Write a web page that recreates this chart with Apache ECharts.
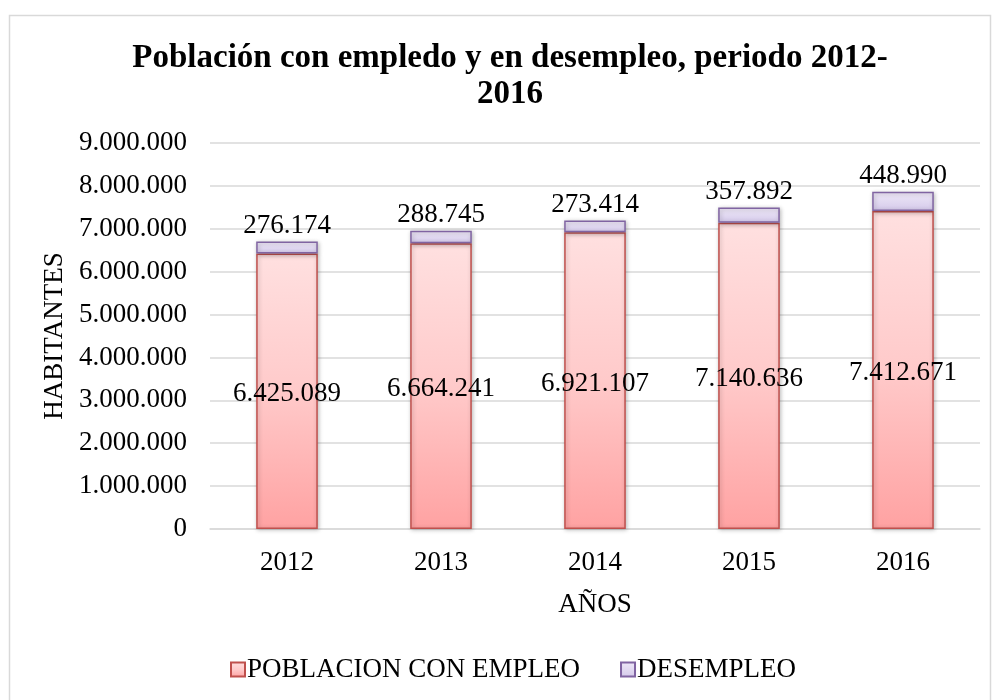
<!DOCTYPE html>
<html>
<head>
<meta charset="utf-8">
<script src="https://cdn.jsdelivr.net/npm/echarts@6/dist/echarts.min.js"></script>
<style>
html,body{margin:0;padding:0;background:#fff;}
#chart{width:999px;height:700px;}
</style>
</head>
<body>
<div id="chart"></div>
<script>
const years = ['2012', '2013', '2014', '2015', '2016'];
const employed = [6425089, 6664241, 6921107, 7140636, 7412671];
const unemployed = [276174, 288745, 273414, 357892, 448990];
const seriesNames = ['POBLACION CON EMPLEO', 'DESEMPLEO'];
const titleText = 'Población con empledo y en desempleo, periodo 2012-\n2016';

const FONT = '"Liberation Serif", "Times New Roman", serif';
function fmt(v) {
  return String(Math.round(v)).replace(/\B(?=(\d{3})+(?!\d))/g, '.');
}

const chart = echarts.init(document.getElementById('chart'), null, {renderer: 'canvas'});
const option = {
  backgroundColor: '#fff',
  animation: false,
  graphic: [{
    type: 'rect',
    shape: {x: 9.5, y: 15.5, width: 981, height: 700},
    style: {fill: 'none', stroke: '#d9d9d9', lineWidth: 1.5},
    silent: true
  }],
  title: {
    text: titleText,
    left: 505,
    textAlign: 'center',
    top: 35,
    textStyle: {fontFamily: FONT, fontSize: 33, fontWeight: 'bold', color: '#000', lineHeight: 36, align: 'center'}
  },
  legend: {
    bottom: 12,
    left: 225,
    itemWidth: 14,
    itemHeight: 14,
    itemGap: 40,
    icon: 'rect',
    textStyle: {fontFamily: FONT, fontSize: 27, color: '#000', padding: [0, 0, 0, -3]},
    data: seriesNames
  },
  grid: {left: 210, right: 19, top: 143, bottom: 171},
  xAxis: {
    type: 'category',
    data: years,
    name: 'AÑOS',
    nameLocation: 'middle',
    nameGap: 62,
    nameTextStyle: {fontFamily: FONT, fontSize: 27, color: '#000'},
    axisLine: {show: true, lineStyle: {color: '#d9d9d9', width: 1.5}},
    axisTick: {show: false},
    axisLabel: {fontFamily: FONT, fontSize: 27, color: '#000', margin: 20}
  },
  yAxis: {
    type: 'value',
    min: 0,
    max: 9000000,
    interval: 1000000,
    name: 'HABITANTES',
    nameLocation: 'middle',
    nameGap: 136,
    nameRotate: 90,
    nameTextStyle: {fontFamily: FONT, fontSize: 27, color: '#000'},
    axisLine: {show: false},
    axisTick: {show: false},
    splitLine: {lineStyle: {color: '#d9d9d9', width: 1.5}},
    axisLabel: {fontFamily: FONT, fontSize: 27, color: '#000', margin: 23, formatter: fmt}
  },
  series: [{
    name: seriesNames[0],
    type: 'bar',
    stack: 'total',
    barWidth: '40%',
    data: employed,
    itemStyle: {
      color: new echarts.graphic.LinearGradient(0, 0, 0, 1, [
        {offset: 0, color: '#ffe0e0'},
        {offset: 0.5, color: '#ffcaca'},
        {offset: 1, color: '#ffa2a2'}
      ]),
      borderColor: '#c0504d',
      borderWidth: 1.5,
      shadowColor: 'rgba(0,0,0,0.25)',
      shadowBlur: 4,
      shadowOffsetX: 1,
      shadowOffsetY: 1
    },
    label: {
      show: true,
      position: 'inside',
      offset: [0, 3],
      fontFamily: FONT,
      fontSize: 27,
      color: '#000',
      formatter: p => fmt(p.value)
    }
  }, {
    name: seriesNames[1],
    type: 'bar',
    stack: 'total',
    barWidth: '40%',
    data: unemployed,
    itemStyle: {
      color: new echarts.graphic.LinearGradient(0, 0, 0, 1, [
        {offset: 0, color: '#efe9f8'},
        {offset: 1, color: '#d4c9ea'}
      ]),
      borderColor: '#8064a2',
      borderWidth: 1.5,
      shadowColor: 'rgba(0,0,0,0.25)',
      shadowBlur: 4,
      shadowOffsetX: 1,
      shadowOffsetY: 1
    },
    label: {
      show: true,
      position: 'top',
      distance: 2,
      fontFamily: FONT,
      fontSize: 27,
      color: '#000',
      formatter: p => fmt(p.value)
    }
  }]
};
chart.setOption(option);
</script>
</body>
</html>
